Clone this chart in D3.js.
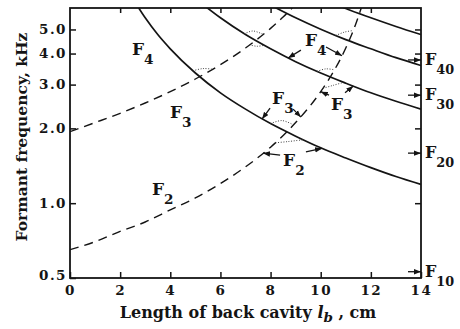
<!DOCTYPE html>
<html><head><meta charset="utf-8">
<script src="https://cdn.jsdelivr.net/npm/d3@7"></script>
<style>
html,body{margin:0;padding:0;background:#fff;}
svg{display:block;}
text{font-family:"DejaVu Serif",serif;fill:#141414;font-weight:bold;}
</style></head><body>
<svg id="chart" width="460" height="329"></svg>
<script>
// Back-cavity (half-wave) resonances: [length of back cavity cm, kHz]
const backR1 = [[2.7,6.19],[3,5.57],[3.5,4.77],[4,4.18],[5,3.34],[6,2.78],[7,2.39],[8,2.09],[9,1.86],[10,1.67],[11,1.52],[12,1.39],[13,1.28],[14,1.19]];
const backR2 = [[5.4,6.19],[6,5.57],[7,4.77],[8,4.18],[9,3.71],[10,3.34],[11,3.04],[12,2.78],[13,2.57],[14,2.39]];
const backR3 = [[8.1,6.19],[9,5.57],[10,5.01],[11,4.55],[12,4.18],[13,3.85],[14,3.58]];
const backR4 = [[10.8,6.19],[11,6.07],[12,5.57],[13,5.14],[14,4.77]];
// Front-cavity (quarter-wave) resonances
const frontR1 = [[0,0.65],[1,0.70],[2,0.77],[3,0.84],[4,0.94],[5,1.05],[6,1.20],[7,1.40],[8,1.68],[9,2.11],[10,2.81],[10.5,3.37],[11,4.21],[11.3,4.95],[11.65,6.24]];
const frontR2 = [[0,1.94],[1,2.11],[2,2.30],[3,2.53],[4,2.81],[5,3.16],[6,3.61],[7,4.21],[8,5.05],[8.5,5.61],[8.9,6.16]];
// Coupled-formant paths near the crossings (dotted)
const couplings = [
  [[4.9,3.41],[5.3,3.48],[5.7,3.46]],
  [[6.95,4.8],[7.3,4.93],[7.7,4.78]],
  [[7.15,4.34],[7.45,4.28],[7.75,4.32]],
  [[8.0,2.09],[8.45,2.15],[8.9,2.07]],
  [[8.2,1.75],[8.7,1.77],[9.3,1.80]],
  [[9.85,3.39],[10.2,3.47],[10.55,3.44]],
  [[10.1,2.90],[10.5,2.98],[10.9,3.06]],
  [[10.6,4.73],[10.95,4.88],[11.3,4.95]]
];
// Uniform-tube formants marked on the right edge
const neutralF = [0.53, 1.59, 2.72, 3.77];
const neutralNames = ["10", "20", "30", "40"];
// Axis ticks
const xTicks = [0, 2, 4, 6, 8, 10, 12, 14];
const yTicks = [0.5, 1.0, 2.0, 3.0, 4.0, 5.0];
// Curve labels: [lb, kHz, subscript]
const curveLabels = [[2.47,3.95,"4"],[3.99,2.20,"3"],[3.27,1.08,"2"],[8.06,2.51,"3"],[8.5,1.41,"2"],[10.41,2.37,"3"],[9.37,4.29,"4"]];
// Pointer arrows: from [lb, kHz] to [lb, kHz]
const pointers = [
  [[7.98,2.41],[7.66,2.18]], [[8.9,2.39],[9.21,2.22]],
  [[8.38,1.56],[7.7,1.59]], [[9.41,1.61],[10.05,1.66]],
  [[10.33,2.72],[10.0,2.81]], [[10.97,2.78],[11.3,2.96]],
  [[9.21,4.13],[8.7,3.84]], [[10.21,4.25],[10.85,3.92]]
];

const svg = d3.select("#chart");
const x = d3.scaleLinear().domain([0, 14]).range([70, 421]);
const y = d3.scaleLog().domain([0.5, 6.1]).range([278, 8]);
const ink = "#141414";

const defs = svg.append("defs");
defs.append("clipPath").attr("id", "plot").append("rect")
  .attr("x", 70).attr("y", 8).attr("width", 351).attr("height", 270);
defs.append("marker").attr("id", "head").attr("markerUnits", "userSpaceOnUse")
  .attr("markerWidth", 8).attr("markerHeight", 6).attr("refX", 7).attr("refY", 3)
  .attr("orient", "auto")
  .append("path").attr("d", "M0,0.3 L7,3 L0,5.7 Z").attr("fill", ink);

const line = d3.line().x(d => x(d[0])).y(d => y(d[1])).curve(d3.curveMonotoneX);
const plot = svg.append("g").attr("clip-path", "url(#plot)");

[backR1, backR2, backR3, backR4].forEach(c => {
  plot.append("path").attr("d", line(c)).attr("fill", "none")
    .attr("stroke", ink).attr("stroke-width", 1.7);
});
[frontR1, frontR2].forEach(c => {
  plot.append("path").attr("d", line(c)).attr("fill", "none")
    .attr("stroke", ink).attr("stroke-width", 1.4).attr("stroke-dasharray", "9,6");
});
const smooth = d3.line().x(d => x(d[0])).y(d => y(d[1])).curve(d3.curveCardinal);
couplings.forEach(c => {
  plot.append("path").attr("d", smooth(c)).attr("fill", "none")
    .attr("stroke", "#444").attr("stroke-width", 1).attr("stroke-dasharray", "1,1.6");
});

// axes
const fmt = d3.format(".1f");
const axLeft = svg.append("g").attr("transform", "translate(70,0)")
  .call(d3.axisLeft(y).tickValues(yTicks).tickSize(-6).tickPadding(3).tickFormat(fmt));
const axRight = svg.append("g").attr("transform", "translate(421,0)")
  .call(d3.axisRight(y).tickValues(yTicks.slice(1)).tickSize(-6).tickFormat(""));
const axBottom = svg.append("g").attr("transform", "translate(0,278)")
  .call(d3.axisBottom(x).tickValues(xTicks).tickSize(-6).tickPadding(7).tickFormat(d3.format("d")));
const axTop = svg.append("g").attr("transform", "translate(0,8)")
  .call(d3.axisTop(x).tickValues(xTicks.slice(1, -1)).tickSize(-5).tickFormat(""));
[axLeft, axRight, axBottom, axTop].forEach(g => {
  g.select(".domain").remove();
  g.selectAll(".tick line").attr("stroke", ink).attr("stroke-width", 1.5);
  g.selectAll("text").style("font-family", "DejaVu Serif").style("font-weight", "bold")
    .style("font-size", "13.5px").attr("fill", ink).style("letter-spacing", "1.5px");
});
axLeft.selectAll(".tick").filter(d => d === 0.5).select("text").attr("dy", "0.1em");
svg.append("rect").attr("x", 70).attr("y", 8).attr("width", 351).attr("height", 270)
  .attr("fill", "none").attr("stroke", ink).attr("stroke-width", 1.8);

// formant label helper
function fLabel(px, py, sub, size) {
  const t = svg.append("text").attr("x", px).attr("y", py)
    .style("font-size", size + "px");
  t.append("tspan").text("F");
  t.append("tspan").attr("dy", size * 0.55).style("font-size", (size * 0.8) + "px").text(sub);
}
curveLabels.forEach(d => fLabel(x(d[0]), y(d[1]), d[2], 17));

pointers.forEach(p => {
  svg.append("line").attr("x1", x(p[0][0])).attr("y1", y(p[0][1]))
    .attr("x2", x(p[1][0])).attr("y2", y(p[1][1]))
    .attr("stroke", ink).attr("stroke-width", 1.3).attr("marker-end", "url(#head)");
});

neutralF.forEach((f, i) => {
  svg.append("line").attr("x1", 408).attr("x2", 421).attr("y1", y(f)).attr("y2", y(f))
    .attr("stroke", ink).attr("stroke-width", 1.3).attr("marker-end", "url(#head)");
  fLabel(425, y(f) + 5, neutralNames[i], 16);
});

// axis titles
const xt = svg.append("text").attr("x", 248).attr("y", 318).attr("text-anchor", "middle")
  .style("font-size", "16px");
xt.append("tspan").text("Length of back cavity ");
xt.append("tspan").style("font-style", "italic").text("l");
xt.append("tspan").style("font-style", "italic").style("font-size", "13.5px").attr("dy", 4).text("b");
xt.append("tspan").attr("dy", -4).text(" , cm");

svg.append("text").attr("transform", "translate(27,137) rotate(-90)")
  .attr("text-anchor", "middle").style("font-size", "15.5px")
  .text("Formant frequency, kHz");
</script></body></html>
